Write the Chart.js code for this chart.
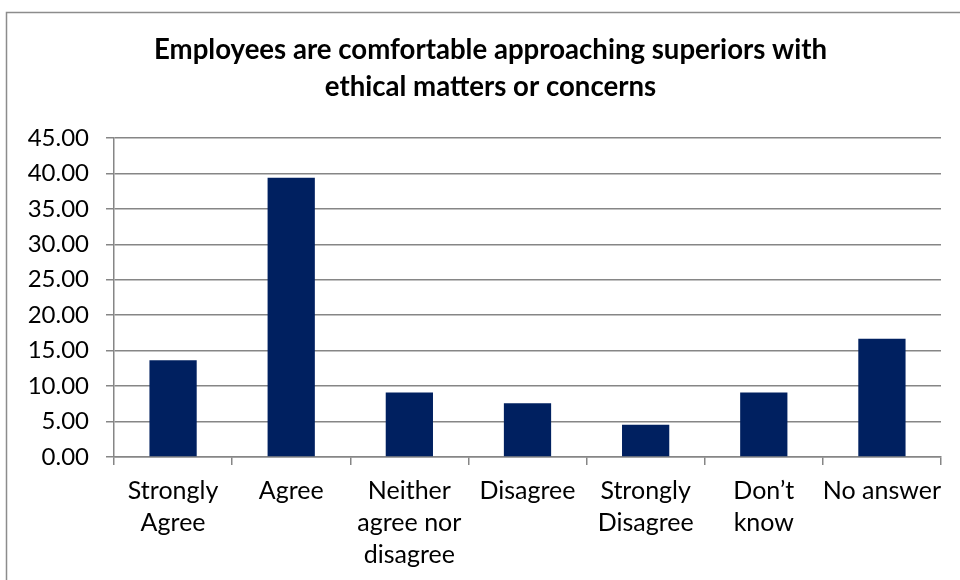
<!DOCTYPE html>
<html>
<head>
<meta charset="utf-8">
<script src="https://cdn.jsdelivr.net/npm/chart.js@4/dist/chart.umd.min.js"></script>
<style>
  html, body { margin: 0; padding: 0; background: #fff; }
  #wrap { width: 960px; height: 580px; }
</style>
</head>
<body>
<div id="wrap"><canvas id="canva_bar" width="960" height="580"></canvas></div>
<script>
var respuestas = [
    ['Strongly', 'Agree'],
    'Agree',
    ['Neither', 'agree nor', 'disagree'],
    'Disagree',
    ['Strongly', 'Disagree'],
    ['Don\u2019t', 'know'],
    'No answer'
];
var porcentajes = [13.64, 39.39, 9.09, 7.58, 4.55, 9.09, 16.67];
var titulo = ['Employees are comfortable approaching superiors with', 'ethical matters or concerns'];

var fuente = 'Lato, "Liberation Sans", sans-serif';

// marco gris alrededor del grafico, y el titulo centrado algo mas a la derecha
var marco = {
    id: 'marco',
    afterLayout: function (chart) {
        if (chart.titleBlock) {
            chart.titleBlock.left = 40;
        }
    },
    beforeDraw: function (chart) {
        var c = chart.ctx;
        c.save();
        c.fillStyle = '#fff';
        c.fillRect(0, 0, chart.width, chart.height);
        c.strokeStyle = '#8c8c8c';
        c.lineWidth = 1.5;
        c.strokeRect(6.5, 12.5, 1000, 1000);
        c.restore();
    }
};

graficar();
function graficar() {
    var ctx = document.getElementById('canva_bar').getContext('2d');
    var myChartBar = new Chart(ctx, {
        type: 'bar',
        data: {
            labels: respuestas,
            datasets: [{
                label: 'porcentaje',
                data: porcentajes,
                backgroundColor: '#002060',
                borderWidth: 0,
                barPercentage: 0.4,
                categoryPercentage: 1
            }]
        },
        options: {
            responsive: false,
            animation: false,
            layout: { padding: { left: 0, right: 19, top: 14, bottom: 0 } },
            plugins: {
                legend: { display: false },
                tooltip: { enabled: false },
                title: {
                    display: true,
                    text: titulo,
                    color: '#000',
                    font: { family: fuente, size: 27.6, weight: 'bold', lineHeight: 1.34 },
                    padding: { top: 18, bottom: 32 }
                }
            },
            scales: {
                x: {
                    grid: {
                        offset: true,
                        drawOnChartArea: false,
                        drawTicks: true,
                        tickLength: 8,
                        color: '#868686',
                        lineWidth: 1.5
                    },
                    border: { color: '#868686', width: 1.5 },
                    ticks: {
                        color: '#000',
                        maxRotation: 0,
                        autoSkip: false,
                        padding: 10,
                        font: { family: fuente, size: 25, lineHeight: 1.28 }
                    },
                    afterFit: function (scale) { scale.height = 123; }
                },
                y: {
                    min: 0,
                    max: 45,
                    ticks: {
                        stepSize: 5,
                        color: '#000',
                        padding: 17,
                        font: { family: fuente, size: 24 },
                        callback: function (v) { return v.toFixed(2); }
                    },
                    grid: { color: '#868686', lineWidth: 1.5, tickLength: 8 },
                    border: { color: '#868686', width: 1.5 },
                    afterFit: function (scale) { scale.width = 114; }
                }
            }
        },
        plugins: [marco]
    });
}
</script>
</body>
</html>
